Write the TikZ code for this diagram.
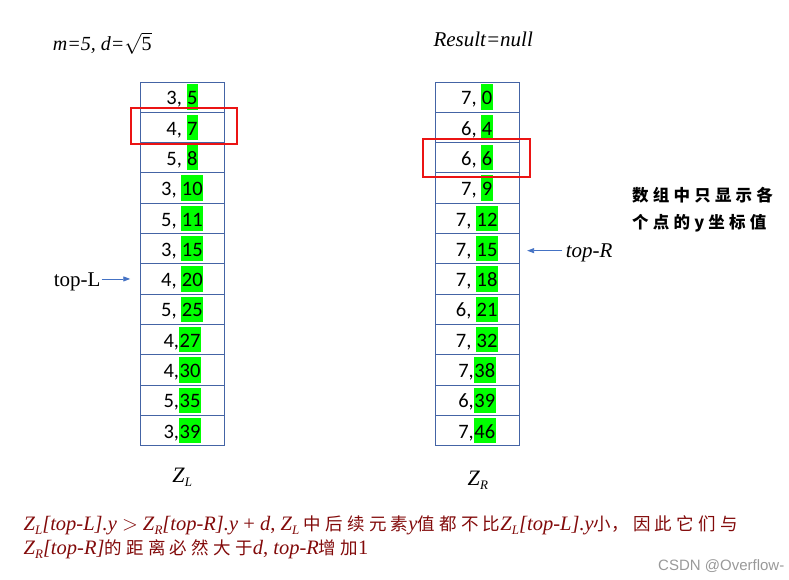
\documentclass[tikz,border=0pt]{standalone}
\usepackage{fontspec}
\setmainfont{Liberation Serif}
\newfontfamily\cellfont{Carlito}
\newfontfamily\cjk{Noto Sans CJK SC}
\newfontfamily\wmfont{Liberation Sans}
\usetikzlibrary{calc,arrows.meta}
\definecolor{cellblue}{RGB}{68,100,165}
\definecolor{hlgreen}{RGB}{0,255,0}
\definecolor{arrblue}{RGB}{68,114,196}
\definecolor{darkred}{RGB}{130,10,10}
\definecolor{boxred}{RGB}{235,20,20}
\newcommand\hl[1]{{\setlength\fboxsep{0pt}\colorbox{hlgreen}{\hspace{0.6pt}\rule[-5pt]{0pt}{25.3pt}#1\hspace{0.6pt}}}}
\newcommand\cg{\hspace{4.2pt}}
\newcommand\bg{\hspace{4.3pt}}
\newcommand\zsub[2]{\textit{#1}\raisebox{-4pt}{\fontsize{13}{13}\selectfont\textit{#2}}}
\newcommand\bcjk{\cjk\fontsize{17.5}{17.5}\selectfont}
\tikzset{
  cell/.style={draw=cellblue, line width=0.9pt, minimum width=84pt, minimum height=30.3pt, inner sep=0pt, font=\cellfont\fontsize{20.5}{20.5}\selectfont},
  redbox/.style={draw=boxred, line width=2pt},
  arr/.style={draw=arrblue, line width=0.9pt, -{Triangle[length=7pt,width=5pt]}},
  lbl/.style={inner sep=0pt, font=\fontsize{21}{21}\selectfont},
  cjktext/.style={inner sep=0pt, font=\cjk\bfseries\fontsize{16.5}{16.5}\selectfont},
  redtext/.style={inner sep=0pt, text=darkred, font=\fontsize{20.5}{20.5}\selectfont},
}
\begin{document}
\begin{tikzpicture}[x=1pt,y=-1pt]
\useasboundingbox (0,0) rectangle (789,580);
% left column
\foreach \i/\t in {1/{3, \hl{5}},2/{4, \hl{7}},3/{5, \hl{8}},4/{3, \hl{10}},5/{5, \hl{11}},6/{3, \hl{15}},7/{4, \hl{20}},8/{5, \hl{25}},9/{4,\hl{27}},10/{4,\hl{30}},11/{5,\hl{35}},12/{3,\hl{39}}}
  \node[cell] (L\i) at (182.3, {82+(\i-0.5)*30.3}) {\t};
% right column
\foreach \i/\t in {1/{7, \hl{0}},2/{6, \hl{4}},3/{6, \hl{6}},4/{7, \hl{9}},5/{7, \hl{12}},6/{7, \hl{15}},7/{7, \hl{18}},8/{6, \hl{21}},9/{7, \hl{32}},10/{7,\hl{38}},11/{6,\hl{39}},12/{7,\hl{46}}}
  \node[cell] (R\i) at (477, {82+(\i-0.5)*30.3}) {\t};
% red boxes
\draw[redbox] ($(L2.north west)+(-9.3,-4)$) rectangle ($(L2.south east)+(12.7,0.7)$);
\draw[redbox] ($(R3.north west)+(-11.7,-3.6)$) rectangle ($(R3.south east)+(11,3.8)$);
% headings
\node[lbl, anchor=base west, font=\fontsize{20}{20}\selectfont] (hdL) at (52.7,50.7) {\textit{m=5, d=}$\sqrt{\textrm{5}}$};
\node[lbl, anchor=base west] (hdR) at (433.3,46.7) {\textit{Result=null}};
% pointers
\node[lbl, anchor=base east] (topL) at (100.7,286) {top-L};
\draw[arr, shorten <=1pt, shorten >=9.6pt] (topL.east |- L7) -- (L7.west);
\node[lbl, anchor=base west] (topR) at (565.7,257.7) {\textit{top-R}};
\coordinate (tR) at ($(R6.east)+(0,2)$);
\draw[arr, shorten <=3.4pt, shorten >=7.7pt] (topR.west |- tR) -- (tR);
% note
\node[cjktext, anchor=base west] (n1) at (632,201.5) {数\cg 组\cg 中\cg 只\cg 显\cg 示\cg 各};
\node[cjktext, anchor=base west] (n2) at (632,228.3) {个\cg 点\cg 的\cg y\cg 坐\cg 标\cg 值};
% column names
\node[lbl, anchor=base, font=\fontsize{22}{22}\selectfont] (zl) at (182.3,482.7) {\zsub{Z}{L}};
\node[lbl, anchor=base, font=\fontsize{22}{22}\selectfont] (zr) at (477.8,485.3) {\zsub{Z}{R}};
% bottom explanation
\node[redtext, anchor=base west] (b1) at (23.3,530.7) {\zsub{Z}{L}\textit{[top-L].y} $>$ \zsub{Z}{R}\textit{[top-R].y} + \textit{d}, \zsub{Z}{L}{\bcjk\bg 中\bg 后\bg 续\bg 元\bg 素}\textit{y}{\bcjk 值\bg 都\bg 不\bg 比}\zsub{Z}{L}\textit{[top-L].y}{\bcjk 小，\bg 因\bg 此\bg 它\bg 们\bg 与}};
\node[redtext, anchor=base west] (b2) at (23.3,554.3) {\zsub{Z}{R}\textit{[top-R]}{\bcjk 的\bg 距\bg 离\bg 必\bg 然\bg 大\bg 于}\textit{d}, \textit{top-R}{\bcjk 增\bg 加}1};
% watermark
\node[inner sep=0pt, anchor=west, text=black!40, font=\wmfont\fontsize{15}{15}\selectfont] (wm) at (658,565.7) {CSDN @Overflow-};
\end{tikzpicture}
\end{document}
